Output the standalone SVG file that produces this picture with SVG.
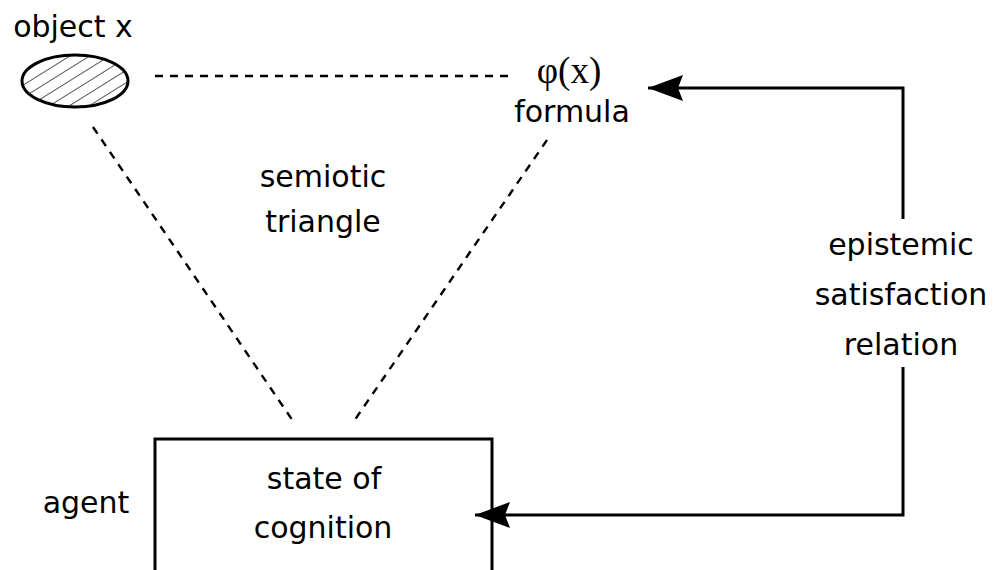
<svg xmlns="http://www.w3.org/2000/svg" width="996" height="570" viewBox="0 0 996 570">
  <style>
    .lbl { font-family: "DejaVu Sans", Verdana, sans-serif; font-size: 30px; fill: #000; text-anchor: middle; }
    .math { font-family: "Liberation Serif", "Times New Roman", serif; font-size: 37px; fill: #000; text-anchor: middle; }
    .dash { stroke: #000; stroke-width: 2.4; stroke-dasharray: 8 7; fill: none; }
    .solid { stroke: #000; stroke-width: 3; fill: none; }
  </style>
  <defs>
    <!-- diagonal hatching for the object -->
    <pattern id="hatch" patternUnits="userSpaceOnUse" width="20" height="10.5" patternTransform="rotate(-32)">
      <line x1="0" y1="0" x2="20" y2="0" stroke="#000" stroke-width="1.3"/>
    </pattern>
    <marker id="arrow" markerUnits="userSpaceOnUse" markerWidth="40" markerHeight="30" refX="35" refY="13" orient="auto">
      <path d="M0,0 L35,13 L0,26 L5,13 Z" fill="#000"/>
    </marker>
  </defs>
  <rect width="996" height="570" fill="#fff"/>

  <g id="object">
    <ellipse cx="75" cy="81" rx="53" ry="26" fill="url(#hatch)" stroke="#000" stroke-width="3"/>
    <text class="lbl" x="73" y="37">object x</text>
  </g>

  <g id="formula">
    <text class="math" x="569" y="83">φ(x)</text>
    <text class="lbl" x="572" y="122">formula</text>
  </g>

  <g id="triangle-label">
    <text class="lbl" x="323" y="187">semiotic</text>
    <text class="lbl" x="323" y="232">triangle</text>
  </g>

  <g id="agent">
    <rect x="155" y="439" width="337" height="150" fill="#fff" stroke="#000" stroke-width="3"/>
    <text class="lbl" x="324" y="489">state of</text>
    <text class="lbl" x="323" y="538">cognition</text>
    <text class="lbl" x="86" y="513">agent</text>
  </g>

  <g id="relation-label">
    <text class="lbl" x="901" y="255">epistemic</text>
    <text class="lbl" x="901" y="305">satisfaction</text>
    <text class="lbl" x="901" y="355">relation</text>
  </g>

  <g id="connectors">
    <line class="dash" x1="155" y1="76" x2="512" y2="76"/>
    <line class="dash" x1="93" y1="127" x2="295" y2="424"/>
    <line class="dash" x1="547" y1="140" x2="352" y2="424"/>
    <polyline class="solid" points="903,219 903,88 648,88" marker-end="url(#arrow)"/>
    <polyline class="solid" points="903,367 903,515 475,515" marker-end="url(#arrow)"/>
  </g>
</svg>
